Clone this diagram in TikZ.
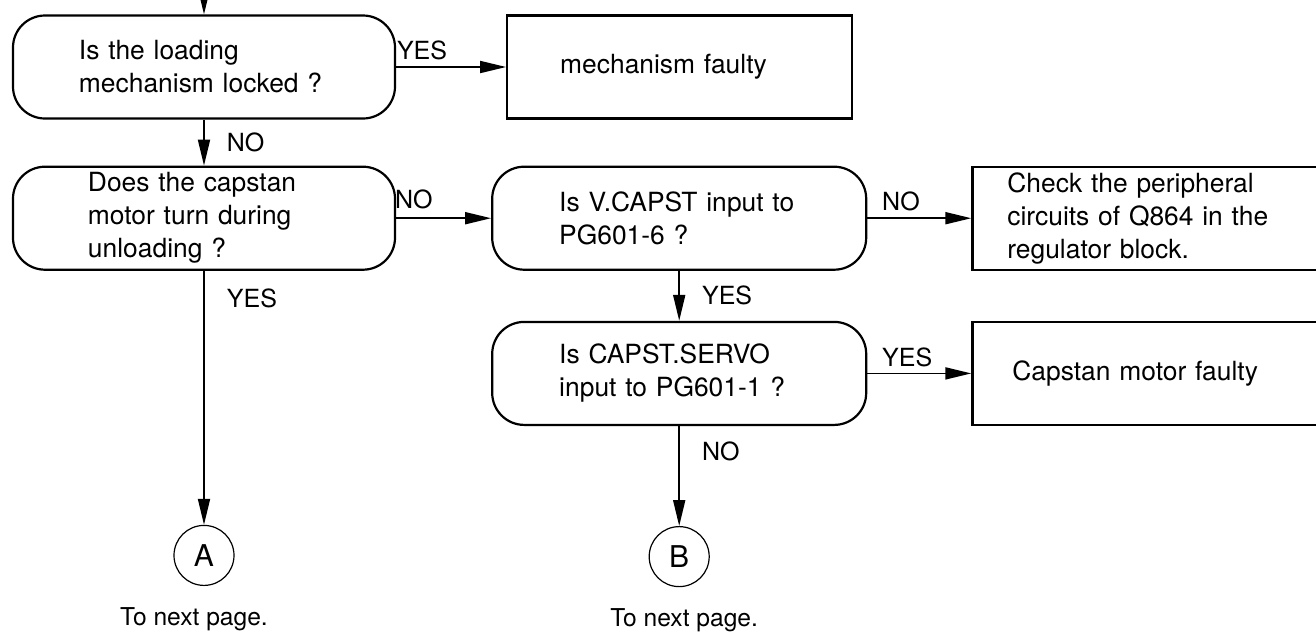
\documentclass[tikz,border=0pt]{standalone}
\usepackage{fontspec}
\setmainfont{TeX Gyre Heros}
\usetikzlibrary{positioning, arrows.meta}

\begin{document}
\begin{tikzpicture}[
  node distance=23pt and 55pt,
  every node/.style={font=\fontsize{13.2}{15}\selectfont},
  qbox/.style={rectangle, draw, line width=1.1pt, rounded corners=16pt, minimum height=51.5pt, align=left, inner ysep=0pt},
  abox/.style={rectangle, draw, line width=1.1pt, minimum height=51.5pt, align=left, inner ysep=0pt},
  conn/.style={circle, draw, line width=0.6pt, minimum size=30pt, inner sep=0pt, font=\fontsize{15}{15}\selectfont},
  lbl/.style={font=\fontsize{12.5}{12.5}\selectfont, inner sep=2pt},
  note/.style={font=\fontsize{12.3}{12.3}\selectfont},
  arr/.style={-{Triangle[length=13pt, width=6pt]}, line width=0.9pt}
]
\useasboundingbox (-102pt,-283.5pt) rectangle (556pt,33.5pt);

\node[qbox, inner xsep=33pt, text width=125pt] (locked) {Is the loading\\[1.5pt] mechanism locked ?};
\node[abox, right=of locked, inner xsep=26.5pt, text width=119.5pt] (mechfault) {mechanism faulty};
\node[qbox, below=of locked, inner xsep=37.5pt, text width=116pt] (turn) {Does the capstan\\[1.5pt] motor turn during\\[1.5pt] unloading ?};
\node[qbox, right=47.5pt of turn, inner xsep=33.5pt, text width=120pt] (vcapst) {Is V.CAPST input to\\[1.5pt] PG601-6 ?};
\node[abox, right=52pt of vcapst, inner xsep=17.5pt, text width=137.5pt] (regcheck) {Check the peripheral\\[1.5pt] circuits of Q864 in the\\[1.5pt] regulator block.};
\node[qbox, below=25pt of vcapst, inner xsep=33.5pt, text width=120pt] (servo) {Is CAPST.SERVO\\[1.5pt] input to PG601-1 ?};
\node[abox, right=52pt of servo, inner xsep=20pt, text width=132.5pt] (motorfault) {Capstan motor faulty};

\node[conn, below=127pt of turn] (A) {A};
\node[conn, below=50pt of servo] (B) {B};
\node[note, below=7pt of A, xshift=-5pt] (nextA) {To next page.};
\node[note, below=7pt of B, xshift=2.5pt] (nextB) {To next page.};

\coordinate[above=10pt of locked] (entry);
\draw[arr] (entry) -- (locked);
\draw[arr] (locked) -- node[lbl, pos=0, anchor=south west, xshift=-2pt, yshift=1pt] (yes1) {YES} (mechfault);
\draw[arr] (locked) -- node[lbl, right=9pt] (no1) {NO} (turn);
\draw[arr] (turn) -- node[lbl, pos=0, anchor=south west, xshift=-3pt, yshift=2pt] (no2) {NO} (vcapst);
\draw[arr] (vcapst) -- node[lbl, pos=0, anchor=south west, xshift=5pt, yshift=1pt] (no3) {NO} (regcheck);
\draw[arr] (vcapst) -- node[lbl, right=9pt] (yes2) {YES} (servo);
\draw[arr] (servo) -- node[lbl, pos=0, anchor=south west, xshift=5pt, yshift=1pt] (yes3) {YES} (motorfault);
\draw[arr] (turn) -- node[lbl, pos=0, anchor=north west, xshift=9pt, yshift=-6.5pt] (yes4) {YES} (A);
\draw[arr] (servo) -- node[lbl, pos=0, anchor=north west, xshift=9pt, yshift=-5.5pt] (no4) {NO} (B);
\end{tikzpicture}
\end{document}
